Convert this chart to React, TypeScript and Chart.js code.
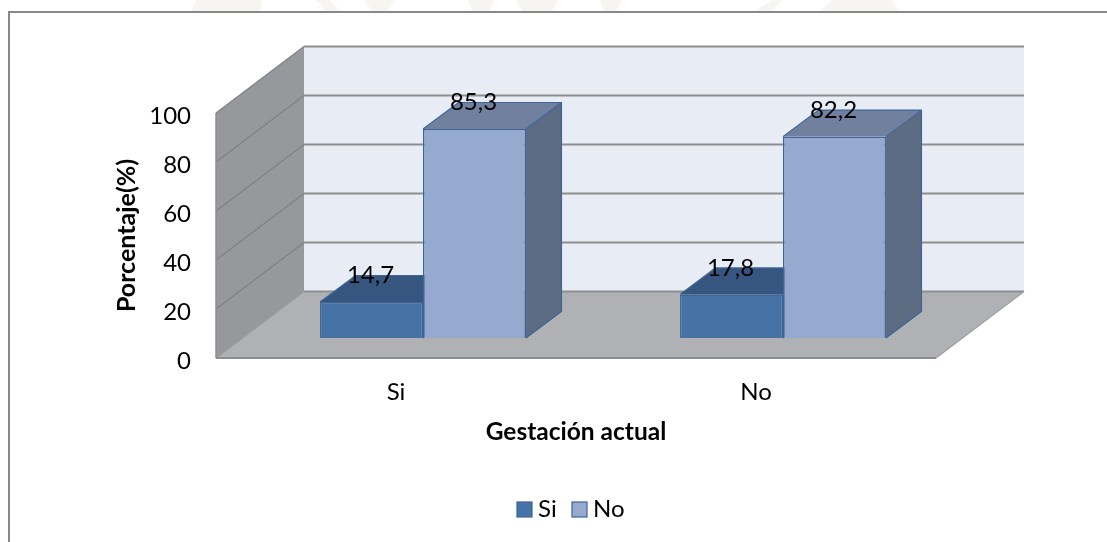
import React, { useEffect, useRef } from "react";
import { Chart, registerables } from "chart.js";

Chart.register(...registerables);

const categories = ["Si", "No"];
const seriesNames = ["Si", "No"];
const siValues = [14.7, 17.8];
const noValues = [85.3, 82.2];
const yTicks = [0, 20, 40, 60, 80, 100];

const FONT = "Lato, Carlito, sans-serif";

// Depth of the floor and of the bars, and where the bars stand on the floor.
const FLOOR_DX = 88;
const FLOOR_DY = 66.5;
const BAR_SHIFT_X = 27;
const BAR_SHIFT_Y = 20;
const BAR_DX = 35.5;
const BAR_DY = 26.5;

const faceColors = [
  { front: "#4672A6", top: "#36567F", side: "#36567F", border: "#3D6595" },
  { front: "#96AAD0", top: "#71809F", side: "#5D6B83", border: "#3D659A" },
];

function poly(ctx: CanvasRenderingContext2D, pts: number[][], fill: string) {
  ctx.beginPath();
  pts.forEach(([x, y], i) => (i ? ctx.lineTo(x, y) : ctx.moveTo(x, y)));
  ctx.closePath();
  ctx.fillStyle = fill;
  ctx.fill();
}

function segment(
  ctx: CanvasRenderingContext2D,
  x1: number,
  y1: number,
  x2: number,
  y2: number,
  color: string,
  width: number
) {
  ctx.beginPath();
  ctx.moveTo(x1, y1);
  ctx.lineTo(x2, y2);
  ctx.strokeStyle = color;
  ctx.lineWidth = width;
  ctx.stroke();
}

// Page frame and the pale letterhead crest showing above it.
const framePlugin = {
  id: "frame",
  beforeDraw(chart: any) {
    const { ctx, width, height } = chart;
    ctx.save();
    ctx.fillStyle = "#FFFFFF";
    ctx.fillRect(0, 0, width, height);
    const crest = "#F6F5F1";
    [
      [[192, 11], [196, 0], [262, 0], [260, 11]],
      [[316, 0], [330, 0], [340, 11], [326, 11]],
      [[364, 0], [394, 0], [388, 11], [372, 11]],
      [[468, 0], [494, 0], [490, 11], [472, 11]],
      [[516, 0], [558, 0], [552, 11], [522, 11]],
      [[600, 0], [622, 0], [616, 11], [604, 11]],
      [[756, 11], [772, 0], [782, 0], [772, 11]],
      [[820, 11], [832, 0], [892, 0], [898, 11]],
    ].forEach((p) => poly(ctx, p, crest));
    segment(ctx, 9, height, 9, 12, "#888888", 2);
    segment(ctx, 8, 12, width, 12, "#888888", 2);
    ctx.restore();
  },
};

// Back wall, side wall, floor and gridlines, then the top and side faces of the bars.
const box3dPlugin = {
  id: "box3d",
  beforeDatasetsDraw(chart: any) {
    const { ctx, chartArea: a, scales } = chart;
    const L = a.left;
    const R = a.right;
    const T = scales.y.getPixelForValue(100);
    const B = scales.y.getPixelForValue(0);
    const line = "#8E8E8E";
    ctx.save();
    poly(ctx, [[L + FLOOR_DX, T - FLOOR_DY], [R + FLOOR_DX, T - FLOOR_DY], [R + FLOOR_DX, B - FLOOR_DY], [L + FLOOR_DX, B - FLOOR_DY]], "#E8ECF5");
    poly(ctx, [[L, T], [L + FLOOR_DX, T - FLOOR_DY], [L + FLOOR_DX, B - FLOOR_DY], [L, B]], "#97989B");
    poly(ctx, [[L, B], [R, B], [R + FLOOR_DX, B - FLOOR_DY], [L + FLOOR_DX, B - FLOOR_DY]], "#AFB1B4");

    yTicks.forEach((t) => {
      const y = scales.y.getPixelForValue(t);
      segment(ctx, L, y, L + FLOOR_DX, y - FLOOR_DY, t === 0 ? "#9A9A9A" : "#808184", 1.2);
      segment(ctx, L + FLOOR_DX, y - FLOOR_DY, R + FLOOR_DX, y - FLOOR_DY, line, 2);
    });
    segment(ctx, L, T, L, B, line, 1.5);
    segment(ctx, L, B, R, B, line, 2);
    segment(ctx, R, B, R + FLOOR_DX, B - FLOOR_DY, "#A0A0A0", 1.2);

    chart.data.datasets.forEach((_: any, di: number) => {
      const c = faceColors[di];
      chart.getDatasetMeta(di).data.forEach((bar: any) => {
        const x0 = bar.x - bar.width / 2 + BAR_SHIFT_X;
        const x1 = bar.x + bar.width / 2 + BAR_SHIFT_X;
        const y0 = bar.y - BAR_SHIFT_Y;
        const y1 = bar.base - BAR_SHIFT_Y;
        poly(ctx, [[x1, y0], [x1 + BAR_DX, y0 - BAR_DY], [x1 + BAR_DX, y1 - BAR_DY], [x1, y1]], c.side);
        poly(ctx, [[x0, y0], [x0 + BAR_DX, y0 - BAR_DY], [x1 + BAR_DX, y0 - BAR_DY], [x1, y0]], c.top);
        ctx.strokeStyle = c.border;
        ctx.lineWidth = 1.2;
        ctx.beginPath();
        ctx.moveTo(x0, y0);
        ctx.lineTo(x0 + BAR_DX, y0 - BAR_DY);
        ctx.lineTo(x1 + BAR_DX, y0 - BAR_DY);
        ctx.lineTo(x1 + BAR_DX, y1 - BAR_DY);
        ctx.lineTo(x1, y1);
        ctx.moveTo(x1, y0);
        ctx.lineTo(x1 + BAR_DX, y0 - BAR_DY);
        ctx.stroke();
      });
    });
    ctx.restore();
  },
  // The front faces stand on the floor, a little way in from its front edge.
  beforeDatasetDraw(chart: any) {
    chart.ctx.save();
    chart.ctx.translate(BAR_SHIFT_X, -BAR_SHIFT_Y);
  },
  afterDatasetDraw(chart: any) {
    chart.ctx.restore();
  },
  // Value labels sit on the rear edge of each bar's top.
  afterDatasetsDraw(chart: any) {
    const { ctx } = chart;
    ctx.save();
    ctx.font = `24px ${FONT}`;
    ctx.fillStyle = "#000000";
    ctx.textAlign = "center";
    ctx.textBaseline = "middle";
    chart.data.datasets.forEach((ds: any, di: number) => {
      chart.getDatasetMeta(di).data.forEach((bar: any, i: number) => {
        const text = String(ds.data[i]).replace(".", ",");
        ctx.fillText(text, bar.x + BAR_SHIFT_X - 1, bar.y - BAR_SHIFT_Y - BAR_DY);
      });
    });
    ctx.restore();
  },
  // Tight swatch-and-name legend centred under the plot.
  afterDraw(chart: any) {
    const { ctx } = chart;
    ctx.save();
    ctx.font = `24px ${FONT}`;
    ctx.textBaseline = "middle";
    ctx.textAlign = "left";
    const startX = [517, 572];
    chart.data.datasets.forEach((ds: any, di: number) => {
      ctx.fillStyle = ds.backgroundColor;
      ctx.strokeStyle = ds.borderColor;
      ctx.lineWidth = 1.2;
      ctx.fillRect(startX[di], 502, 15, 15);
      ctx.strokeRect(startX[di], 502, 15, 15);
      ctx.fillStyle = "#000000";
      ctx.fillText(ds.label, startX[di] + 21, 509);
    });
    ctx.restore();
  },
};

export default function App() {
  const ref = useRef<HTMLCanvasElement>(null);

  useEffect(() => {
    if (!ref.current) return;
    const chart = new Chart(ref.current, {
      type: "bar",
      data: {
        labels: categories,
        datasets: [
          {
            label: seriesNames[0],
            data: siValues,
            backgroundColor: faceColors[0].front,
            borderColor: faceColors[0].border,
            borderWidth: 1.5,
          },
          {
            label: seriesNames[1],
            data: noValues,
            backgroundColor: faceColors[1].front,
            borderColor: faceColors[1].border,
            borderWidth: 1.5,
          },
        ],
      },
      plugins: [framePlugin, box3dPlugin],
      options: {
        responsive: false,
        animation: false,
        layout: { padding: { left: 10, right: 171, top: 113, bottom: 0 } },
        datasets: { bar: { categoryPercentage: 0.572, barPercentage: 1 } },
        plugins: {
          tooltip: { enabled: false },
          title: { display: false },
          legend: { display: false },
        },
        scales: {
          x: {
            type: "category",
            grid: { display: false, drawTicks: false },
            border: { display: false },
            ticks: {
              padding: 20,
              color: "#000000",
              font: { family: FONT, size: 24 },
            },
            title: {
              display: true,
              text: "Gestación actual",
              color: "#000000",
              font: { family: FONT, size: 24.5, weight: "bold" },
              padding: { top: 0, bottom: 95 },
            },
            afterFit(scale: any) {
              scale.height = 184;
            },
          },
          y: {
            min: 0,
            max: 100,
            afterBuildTicks(scale: any) {
              scale.ticks = yTicks.map((value) => ({ value }));
            },
            grid: { display: false, drawTicks: false },
            border: { display: false },
            ticks: {
              padding: 25,
              labelOffset: 3,
              color: "#000000",
              font: { family: FONT, size: 24 },
            },
            title: {
              display: true,
              text: "Porcentaje(%)",
              color: "#000000",
              font: { family: FONT, size: 25, weight: "bold" },
              padding: { top: 102, bottom: 0 },
            },
            afterFit(scale: any) {
              scale.width = 206;
            },
          },
        },
      },
    } as any);
    return () => chart.destroy();
  }, []);

  return (
    <div style={{ position: "absolute", left: 0, top: 0, background: "#FFFFFF" }}>
      <canvas ref={ref} width={1107} height={542} style={{ display: "block" }} />
    </div>
  );
}
